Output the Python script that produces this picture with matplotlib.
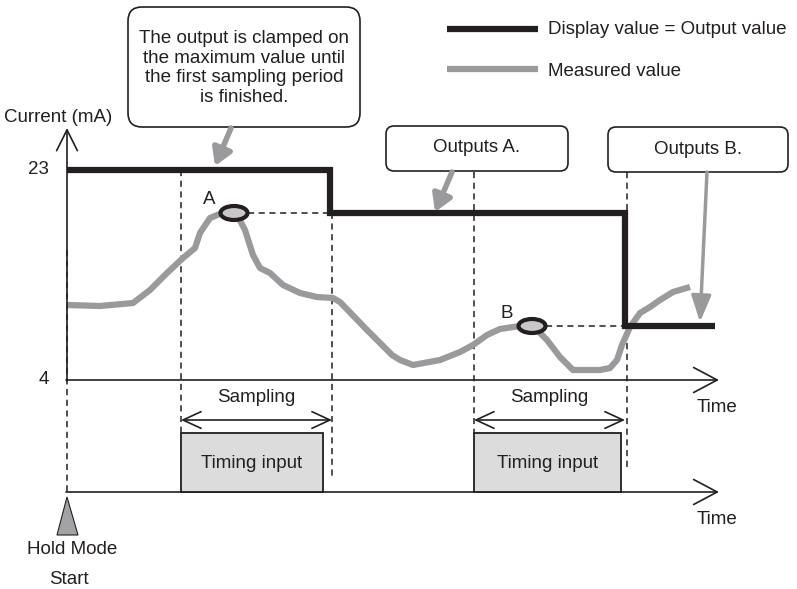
import matplotlib
matplotlib.use("Agg")
import matplotlib.pyplot as plt
from matplotlib.patches import FancyBboxPatch, Rectangle, Ellipse, Polygon

plt.rcParams['font.family'] = ['Liberation Sans', 'DejaVu Sans']

# ---- data (diagram coordinates: x = time position, y = drawing position, top = 0) ----
measured_x = [67, 100, 133, 150, 167, 183, 195, 200, 210, 222, 236, 245, 253, 260, 270, 283,
              300, 317, 333, 340, 367, 392, 400, 413, 440, 460, 473, 487, 500, 520, 535, 547,
              560, 573, 600, 610, 617, 622, 630, 640, 650, 660, 673, 690]
measured_y = [305, 306, 303, 290, 273, 258, 248, 233, 218, 213, 213, 230, 255, 268, 273, 285,
              293, 297, 298, 302, 330, 355, 360, 365, 360, 352, 345, 335, 329, 326, 328, 340,
              357, 370, 370, 368, 360, 345, 327, 313, 307, 300, 292, 287]
display_x = [67, 330, 330, 625, 625, 715]
display_y = [170, 170, 213, 213, 326, 326]
y_tick_labels = ["23", "4"]
y_tick_pos = [170, 380]
sampling_periods = [(181, 332), (474, 625)]
timing_inputs = [(181, 323), (474, 621)]
hold_points = [("A", 234, 213, 330), ("B", 532, 326, 625)]

BLACK = "#231f20"
GRAY = "#9a9a9c"
LGRAY = "#dcdcdd"

fig = plt.figure(figsize=(7.97, 5.89), dpi=100)
ax = fig.add_axes([0, 0, 1, 1])
ax.set_xlim(0, 797)
ax.set_ylim(589, 0)
ax.axis("off")

FS = 13.5

# axes
ax.annotate("", xy=(67, 128), xytext=(67, 381),
            arrowprops=dict(arrowstyle="->,head_length=1.5,head_width=0.75", lw=1.2, color=BLACK,
                            shrinkA=0, shrinkB=0))
ax.annotate("", xy=(719, 380), xytext=(66, 380),
            arrowprops=dict(arrowstyle="->,head_length=1.7,head_width=0.9", lw=1.2, color=BLACK,
                            shrinkA=0, shrinkB=0))
ax.annotate("", xy=(719, 492), xytext=(66, 492),
            arrowprops=dict(arrowstyle="->,head_length=1.7,head_width=0.9", lw=1.2, color=BLACK,
                            shrinkA=0, shrinkB=0))
ax.text(697, 407, "Time", fontsize=FS, ha="left", va="center", color=BLACK)
ax.text(697, 519, "Time", fontsize=FS, ha="left", va="center", color=BLACK)
ax.text(4, 118, "Current (mA)", fontsize=FS, ha="left", va="center", color=BLACK)
for lab, yp in zip(y_tick_labels, y_tick_pos):
    ax.text(49, yp, lab, fontsize=FS, ha="right", va="center", color=BLACK)

# dashed vertical guides
dash = dict(color=BLACK, lw=1.1, ls=(0, (4, 3)))
ax.plot([67, 67], [250, 492], **dash)
ax.plot([181, 181], [170, 433], **dash)
ax.plot([332, 332], [170, 477], **dash)
ax.plot([474, 474], [172, 433], **dash)
ax.plot([627, 627], [172, 468], **dash)

# measured value and display value
ax.plot(measured_x, measured_y, color=GRAY, lw=4.5, solid_capstyle="butt", solid_joinstyle="round")
ax.plot(display_x, display_y, color=BLACK, lw=4.5, solid_capstyle="butt", solid_joinstyle="miter")

# hold points
for lab, cx, cy, xend in hold_points:
    ax.plot([cx + 14, xend], [cy, cy], **dash)
    ax.add_patch(Ellipse((cx, cy), 27, 14, facecolor="#c8c8c8", edgecolor=BLACK, lw=3, zorder=5))
    ax.text(cx - 25, cy - 13, lab, fontsize=FS, ha="center", va="center", color=BLACK)

# sampling arrows and timing input boxes
for (x0, x1) in sampling_periods:
    ax.annotate("", xy=(x0, 420), xytext=(x1, 420),
                arrowprops=dict(arrowstyle="<->,head_length=1.3,head_width=0.6", lw=1.2, color=BLACK,
                                shrinkA=0, shrinkB=0))
    ax.text((x0 + x1) / 2, 398, "Sampling", fontsize=FS, ha="center", va="center", color=BLACK)
for (x0, x1) in timing_inputs:
    ax.add_patch(Rectangle((x0, 433), x1 - x0, 59, facecolor=LGRAY, edgecolor=BLACK, lw=1.3, zorder=3))
    ax.text((x0 + x1) / 2, 464, "Timing input", fontsize=FS, ha="center", va="center", color=BLACK, zorder=4)

# hold mode start
ax.add_patch(Polygon([(67, 497), (57, 535), (78, 535)], closed=True, facecolor="#a3a3a5",
                     edgecolor=BLACK, lw=0.8))
ax.text(72, 549, "Hold Mode", fontsize=FS, ha="center", va="center", color=BLACK)
ax.text(69, 579, "Start", fontsize=FS, ha="center", va="center", color=BLACK)

# callouts
ax.add_patch(FancyBboxPatch((128, 7), 232, 120, boxstyle="round,pad=0,rounding_size=14",
                            facecolor="white", edgecolor=BLACK, lw=1.2))
ax.text(244, 68, "The output is clamped on\nthe maximum value until\nthe first sampling period\nis finished.",
        fontsize=FS, ha="center", va="center", color=BLACK, linespacing=1.2)
ax.add_patch(FancyBboxPatch((386, 126), 182, 45, boxstyle="round,pad=0,rounding_size=8",
                            facecolor="white", edgecolor=BLACK, lw=1.2))
ax.text(477, 148, "Outputs A.", fontsize=FS, ha="center", va="center", color=BLACK)
ax.add_patch(FancyBboxPatch((608, 127), 180, 45, boxstyle="round,pad=0,rounding_size=8",
                            facecolor="white", edgecolor=BLACK, lw=1.2))
ax.text(698, 149, "Outputs B.", fontsize=FS, ha="center", va="center", color=BLACK)

ax.annotate("", xy=(215, 166), xytext=(231, 128),
            arrowprops=dict(arrowstyle="-|>,head_length=1.0,head_width=0.6", lw=4, color=GRAY,
                            shrinkA=0, shrinkB=0))
ax.annotate("", xy=(435, 212), xytext=(452, 172),
            arrowprops=dict(arrowstyle="-|>,head_length=1.0,head_width=0.6", lw=4, color=GRAY,
                            shrinkA=0, shrinkB=0))
ax.annotate("", xy=(700, 322), xytext=(707, 172),
            arrowprops=dict(arrowstyle="-|>,head_length=1.6,head_width=0.6", lw=2.5, color=GRAY,
                            shrinkA=0, shrinkB=0))

# legend
ax.plot([447, 538], [29, 29], color=BLACK, lw=4.5, solid_capstyle="butt")
ax.text(548, 30, "Display value = Output value", fontsize=FS, ha="left", va="center", color=BLACK)
ax.plot([447, 538], [69, 69], color=GRAY, lw=4.5, solid_capstyle="butt")
ax.text(548, 72, "Measured value", fontsize=FS, ha="left", va="center", color=BLACK)

fig.savefig("out.png", dpi=100)
